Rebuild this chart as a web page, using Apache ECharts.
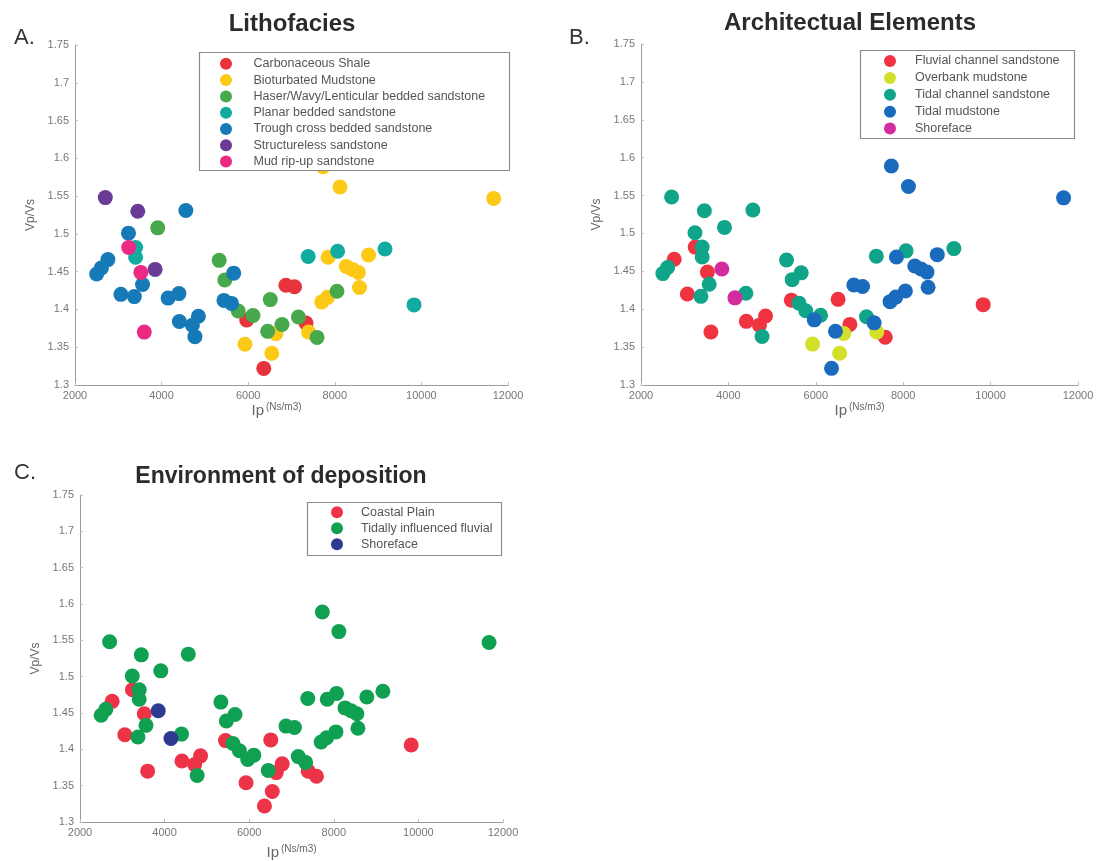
<!DOCTYPE html>
<html>
<head>
<meta charset="utf-8">
<script src="https://cdn.jsdelivr.net/npm/echarts@6/dist/echarts.min.js"></script>
<style>
  html, body { margin: 0; padding: 0; background: #ffffff; }
  #chart { width: 1097px; height: 861px; }
</style>
</head>
<body>
<div id="chart"></div>
<script>
// ---- Data ----
// Acoustic impedance Ip (Ns/m3) of every sample
const ipValues = [
  2700, 3450, 4560, 3910, 3235, 3240, 3400, 3400, 2760, 2610,
  2500, 3520, 3850, 3560, 3060, 3370, 4150, 4400, 3600, 4410,
  4850, 4710, 4770, 5330, 5665, 5460, 5440, 5615, 5770, 5965,
  6110, 6510, 6450, 6640, 6780, 5925, 6545, 6360, 6870, 7070,
  7160, 7335, 7395, 7590, 7385, 7845, 8065, 7700, 7830, 8050,
  8265, 8410, 8545, 8570, 8780, 9160, 7729, 8120, 9830, 11670
];
// Vp/Vs ratio of every sample
const vpvsValues = [
  1.548, 1.530, 1.531, 1.508, 1.501, 1.482, 1.482, 1.469, 1.466, 1.455,
  1.447, 1.449, 1.453, 1.433, 1.420, 1.417, 1.415, 1.421, 1.370, 1.384,
  1.391, 1.379, 1.364, 1.465, 1.448, 1.439, 1.412, 1.408, 1.398, 1.386,
  1.392, 1.413, 1.371, 1.368, 1.380, 1.354, 1.342, 1.322, 1.432, 1.430,
  1.390, 1.382, 1.370, 1.363, 1.470, 1.469, 1.477, 1.410, 1.416, 1.424,
  1.457, 1.453, 1.449, 1.429, 1.472, 1.480, 1.589, 1.562, 1.406, 1.547
];

// Panel A: lithofacies
const lithofaciesNames = [
  'Carbonaceous Shale', 'Bioturbated Mudstone', 'Haser/Wavy/Lenticular bedded sandstone',
  'Planar bedded sandstone', 'Trough cross bedded sandstone', 'Structureless sandstone',
  'Mud rip-up sandstone'
];
const lithofaciesClass = [
  5, 5, 4, 2, 4, 6, 3, 3, 4, 4,
  4, 6, 5, 4, 4, 4, 4, 4, 6, 4,
  4, 4, 4, 2, 4, 2, 4, 4, 2, 0,
  2, 2, 2, 1, 2, 1, 1, 0, 0, 0,
  2, 0, 1, 2, 3, 1, 3, 1, 1, 2,
  1, 1, 1, 1, 1, 3, 1, 1, 3, 1
];
// Panel B: architectural elements
const architectureNames = [
  'Fluvial channel sandstone', 'Overbank mudstone', 'Tidal channel sandstone',
  'Tidal mudstone', 'Shoreface'
];
const architectureClass = [
  2, 2, 2, 2, 2, 0, 2, 2, 0, 2,
  2, 0, 4, 2, 0, 2, 4, 2, 0, 0,
  0, 0, 2, 2, 2, 2, 0, 2, 2, 3,
  2, 0, 3, 1, 0, 1, 1, 3, 3, 3,
  2, 3, 1, 0, 2, 3, 2, 3, 3, 3,
  3, 3, 3, 3, 3, 2, 3, 3, 0, 3
];
// Panel C: environment of deposition
const environmentNames = ['Coastal Plain', 'Tidally influenced fluvial', 'Shoreface'];
const environmentClass = [
  1, 1, 1, 1, 1, 0, 1, 1, 0, 1,
  1, 0, 2, 1, 0, 1, 2, 1, 0, 0,
  0, 0, 1, 1, 1, 1, 0, 1, 1, 1,
  1, 0, 1, 0, 0, 0, 0, 0, 1, 1,
  1, 1, 0, 0, 1, 1, 1, 1, 1, 1,
  1, 1, 1, 1, 1, 1, 1, 1, 0, 1
];

const xTicks = { min: 2000, max: 12000, interval: 2000 };
const yTicks = { min: 1.3, max: 1.75, interval: 0.05 };

// ---- Styling ----
const lithofaciesColors = ['#e8333c', '#fcc917', '#47a94b', '#12aba0', '#1679b8', '#6a3b94', '#ec2a82'];
const architectureColors = ['#ef3340', '#d3e02a', '#10a488', '#1a6bbd', '#d22c9e'];
const environmentColors = ['#ec3347', '#10a052', '#2e3a8f'];

const panels = [
  { grid: { left: 75, top: 45, width: 433, height: 340 }, names: lithofaciesNames, cls: lithofaciesClass,
    colors: lithofaciesColors, suffix: '', nameGap: 12, namePad: [0, 30, 0, 0],
    legend: { left: 220, top: 57.3, itemWidth: 45, itemGap: 3.3 },
    box: { x: 199.5, y: 52.5, width: 310, height: 118 } },
  { grid: { left: 641, top: 44, width: 437, height: 341 }, names: architectureNames, cls: architectureClass,
    colors: architectureColors, suffix: '', nameGap: 15, namePad: [0, 0, 0, 0],
    legend: { left: 884, top: 54.5, itemWidth: 40, itemGap: 3.9 },
    box: { x: 860.5, y: 50.5, width: 214, height: 88 } },
  { grid: { left: 80, top: 495, width: 423, height: 328 }, names: environmentNames, cls: environmentClass,
    colors: environmentColors, suffix: ' ', nameGap: 22, namePad: [0, 0, 0, 0],
    legend: { left: 331, top: 505.8, itemWidth: 38, itemGap: 3 },
    box: { x: 307.5, y: 502.5, width: 194, height: 53 } }
];

const fontFamily = '"Liberation Sans", Arial, sans-serif';
const option = {
  animation: false,
  backgroundColor: '#ffffff',
  textStyle: { fontFamily: fontFamily },
  title: [
    { text: 'Lithofacies', left: 287, top: 7, textAlign: 'center',
      textStyle: { fontSize: 24, fontWeight: 'bold', color: '#2b2b2b', fontFamily: fontFamily } },
    { text: 'Architectual Elements', left: 845, top: 6, textAlign: 'center',
      textStyle: { fontSize: 24, fontWeight: 'bold', color: '#2b2b2b', fontFamily: fontFamily } },
    { text: 'Environment of deposition', left: 276, top: 460, textAlign: 'center',
      textStyle: { fontSize: 23, fontWeight: 'bold', color: '#2b2b2b', fontFamily: fontFamily } },
    { text: 'A.', left: 9, top: 22, textStyle: { fontSize: 22, fontWeight: 'normal', color: '#333', fontFamily: fontFamily } },
    { text: 'B.', left: 564, top: 22, textStyle: { fontSize: 22, fontWeight: 'normal', color: '#333', fontFamily: fontFamily } },
    { text: 'C.', left: 9, top: 457, textStyle: { fontSize: 22, fontWeight: 'normal', color: '#333', fontFamily: fontFamily } }
  ],
  grid: [],
  xAxis: [],
  yAxis: [],
  legend: [],
  graphic: [],
  series: []
};

panels.forEach(function (p, i) {
  option.grid.push(Object.assign({ containLabel: false }, p.grid));
  option.xAxis.push({
    type: 'value', gridIndex: i, min: xTicks.min, max: xTicks.max, interval: xTicks.interval,
    name: '{a|Ip}{b|(Ns/m3)}', nameLocation: 'middle', nameGap: p.nameGap,
    nameTextStyle: {
      padding: p.namePad,
      rich: {
        a: { fontSize: 15, color: '#666', fontFamily: fontFamily, verticalAlign: 'bottom', lineHeight: 16 },
        b: { fontSize: 10, color: '#666', fontFamily: fontFamily, verticalAlign: 'top', lineHeight: 16, padding: [0, 0, 0, 2] }
      }
    },
    axisLine: { show: true, onZero: false, lineStyle: { color: '#9a9a9a', width: 1 } },
    axisTick: { show: true, inside: true, length: 3, lineStyle: { color: '#bdbdbd' } },
    axisLabel: { color: '#777', fontSize: 11, margin: 5, formatter: function (v) { return String(v); } },
    splitLine: { show: false }
  });
  option.yAxis.push({
    type: 'value', gridIndex: i, min: yTicks.min, max: yTicks.max, interval: yTicks.interval,
    name: 'Vp/Vs', nameLocation: 'middle', nameGap: 38,
    nameTextStyle: { color: '#666', fontSize: 12, fontFamily: fontFamily },
    axisLine: { show: true, onZero: false, lineStyle: { color: '#9a9a9a', width: 1 } },
    axisTick: { show: true, inside: true, length: 3, lineStyle: { color: '#bdbdbd' } },
    axisLabel: { color: '#777', fontSize: 11, margin: 6,
      formatter: function (v) { return String(Math.round(v * 100) / 100); } },
    splitLine: { show: false }
  });
  option.graphic.push({
    type: 'rect', z: 3, silent: true,
    shape: { x: p.box.x, y: p.box.y, width: p.box.width, height: p.box.height },
    style: { fill: '#ffffff', stroke: '#8c8c8c', lineWidth: 1.2 }
  });
  const legendNames = p.names.map(function (n) { return n + p.suffix; });
  option.legend.push({
    orient: 'vertical', left: p.legend.left, top: p.legend.top, padding: 0,
    itemWidth: p.legend.itemWidth, itemHeight: 12, itemGap: p.legend.itemGap,
    icon: 'circle', z: 5, selectedMode: false,
    data: legendNames,
    formatter: function (n) { return n.trim(); },
    textStyle: { color: '#555', fontSize: 12.5, lineHeight: 12, fontFamily: fontFamily }
  });
  p.names.forEach(function (n, k) {
    const pts = [];
    for (let j = 0; j < ipValues.length; j++) {
      if (p.cls[j] === k) pts.push([ipValues[j], vpvsValues[j]]);
    }
    option.series.push({
      type: 'scatter', name: n + p.suffix, xAxisIndex: i, yAxisIndex: i,
      symbol: 'circle', symbolSize: 15, data: pts,
      itemStyle: { color: p.colors[k], opacity: 1 },
      emphasis: { disabled: true }
    });
  });
});

const chart = echarts.init(document.getElementById('chart'), null, { renderer: 'canvas' });
chart.setOption(option);
</script>
</body>
</html>
